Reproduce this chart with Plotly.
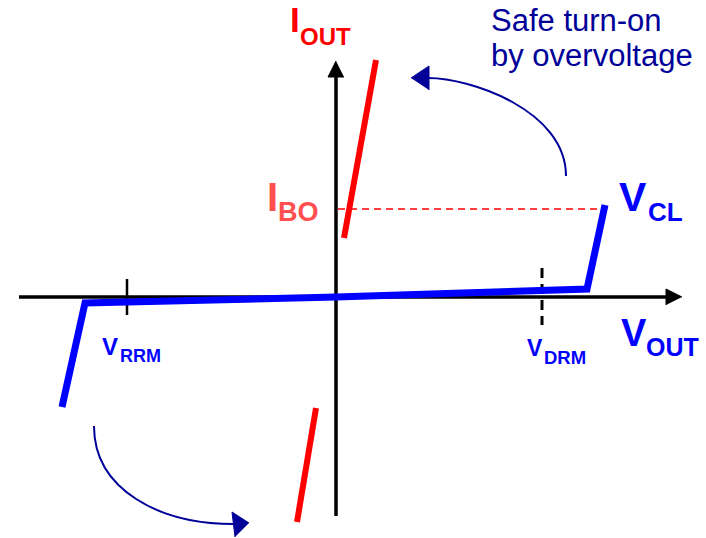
import plotly.graph_objects as go

# ---- geometry in diagram units (V_OUT horizontal, I_OUT vertical, origin at axis crossing)
blue_v = [-274, -251, 0, 251, 269]
blue_i = [-110, -6, 0, 8, 92]

red_up_v = [8, 40]
red_up_i = [59, 237]
red_dn_v = [-39, -20]
red_dn_i = [-225, -111]

ibo_level = 88
ibo_v = [2, 269]

vaxis_v = [-317, 332]
vaxis_head_v = [346, 330, 330]
vaxis_head_i = [0, 8, -8]
iaxis_i = [-219, 222]
iaxis_head_v = [0, -8, 8]
iaxis_head_i = [236, 220, 220]

vdrm = 206
vdrm_i = [29, -28]
vrrm = -209
vrrm_i = [18, -18]

# curved arrows: start, control1, control2, end (cubic Bezier)
arc_up = [(230, 121), (230, 187), (134, 219), (92, 219)]
arc_up_head_v = [75, 93, 93]
arc_up_head_i = [219, 231, 207]
arc_dn = [(-242, -129), (-242, -193), (-176, -227), (-103, -227)]
arc_dn_head_v = [-87, -104, -101]
arc_dn_head_i = [-226, -215, -240]

BLUE = "#0000ff"
NAVY = "#000099"
RED = "#ff0000"
LRED = "#ff4f4f"
FONT = "Liberation Sans, Arial, sans-serif"

fig = go.Figure()

# axes
fig.add_trace(go.Scatter(x=vaxis_v, y=[0, 0], mode="lines", line=dict(color="black", width=3.5)))
fig.add_trace(go.Scatter(x=vaxis_head_v, y=vaxis_head_i, fill="toself", fillcolor="black",
                         mode="lines", line=dict(color="black", width=1)))
fig.add_trace(go.Scatter(x=[0, 0], y=iaxis_i, mode="lines", line=dict(color="black", width=3.5)))
fig.add_trace(go.Scatter(x=iaxis_head_v, y=iaxis_head_i, fill="toself", fillcolor="black",
                         mode="lines", line=dict(color="black", width=1)))

# ticks
fig.add_trace(go.Scatter(x=[vdrm, vdrm], y=vdrm_i, mode="lines",
                         line=dict(color="black", width=3, dash="10px,6px")))
fig.add_trace(go.Scatter(x=[vrrm, vrrm], y=vrrm_i, mode="lines",
                         line=dict(color="black", width=2.5)))

# I_BO dashed level
fig.add_trace(go.Scatter(x=ibo_v, y=[ibo_level, ibo_level], mode="lines",
                         line=dict(color=RED, width=1.5, dash="7px,5px")))

# characteristic
fig.add_trace(go.Scatter(x=blue_v, y=blue_i, mode="lines", line=dict(color=BLUE, width=7)))
fig.add_trace(go.Scatter(x=red_up_v, y=red_up_i, mode="lines", line=dict(color=RED, width=6)))
fig.add_trace(go.Scatter(x=red_dn_v, y=red_dn_i, mode="lines", line=dict(color=RED, width=6)))

# curved arrows
for arc in (arc_up, arc_dn):
    (x0, y0), (x1, y1), (x2, y2), (x3, y3) = arc
    fig.add_shape(type="path", xref="x", yref="y",
                  path=f"M {x0},{y0} C {x1},{y1} {x2},{y2} {x3},{y3}",
                  line=dict(color=NAVY, width=2))
fig.add_trace(go.Scatter(x=arc_up_head_v, y=arc_up_head_i, fill="toself", fillcolor=NAVY,
                         mode="lines", line=dict(color=NAVY, width=1)))
fig.add_trace(go.Scatter(x=arc_dn_head_v, y=arc_dn_head_i, fill="toself", fillcolor=NAVY,
                         mode="lines", line=dict(color=NAVY, width=1)))

def label(x, y, text, size, color, bold=True):
    fig.add_annotation(x=x, y=y, xref="x", yref="y", text=f"<b>{text}</b>" if bold else text,
                       showarrow=False, xanchor="left", yanchor="middle",
                       font=dict(family=FONT, size=size, color=color))

# labels (position = left edge, vertical centre of caps)
label(-48, 278, "I", 35, RED)
label(-38, 261, "OUT", 24, RED)
label(-71, 100, "I", 40, LRED)
label(-60, 85, "BO", 27, LRED)
label(281, 100, "V", 41, BLUE)
label(310, 85, "CL", 26, BLUE)
label(283, -36, "V", 38, BLUE)
label(308, -50, "OUT", 25, BLUE)
label(189, -51, "V", 23, BLUE)
label(206, -60, "DRM", 18.5, BLUE)
label(-236, -49, "V", 24, BLUE)
label(-218, -59, "RRM", 18, BLUE)
label(153, 277, "Safe turn-on", 31, NAVY, bold=False)
label(153, 242, "by overvoltage", 31, NAVY, bold=False)

fig.update_layout(
    width=706, height=538, margin=dict(l=0, r=0, t=0, b=0),
    paper_bgcolor="white", plot_bgcolor="white", showlegend=False,
    xaxis=dict(range=[-336, 370], visible=False, fixedrange=True),
    yaxis=dict(range=[-241, 297], visible=False, fixedrange=True),
)
fig.write_html("out.html", config={"displayModeBar": False},
               post_script="document.body.style.margin='0px';document.body.style.overflow='hidden';")
